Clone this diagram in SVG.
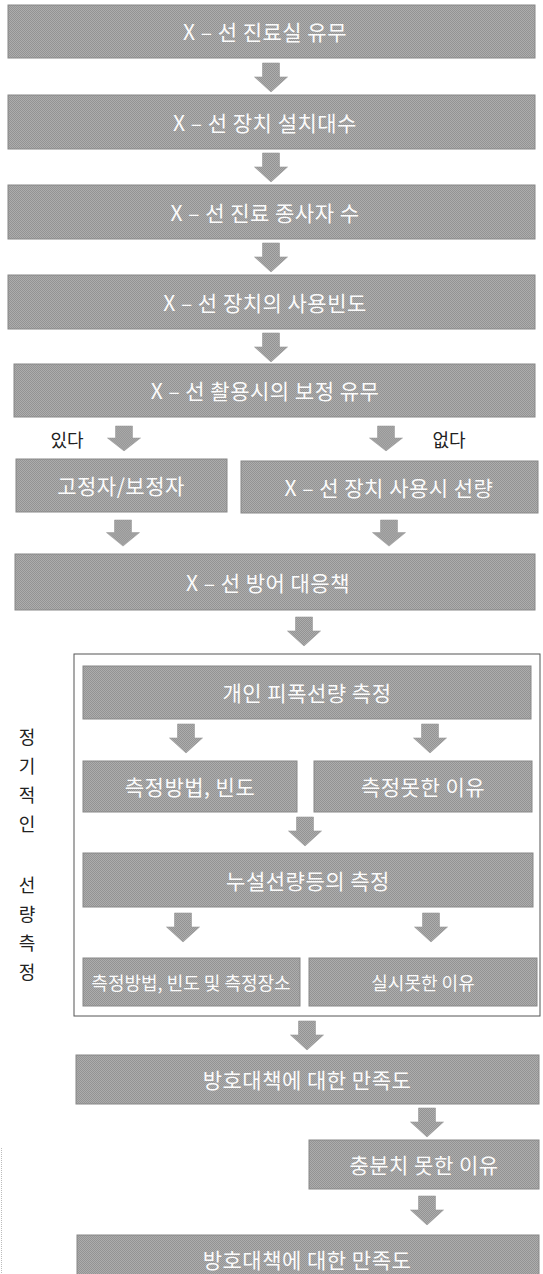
<svg xmlns="http://www.w3.org/2000/svg" xmlns:xlink="http://www.w3.org/1999/xlink" width="543" height="1274" viewBox="0 0 543 1274">
<style>
.box{fill:url(#ht);stroke:#888;stroke-width:1}
.t{font-family:"Noto Sans CJK KR","Noto Sans",sans-serif;font-size:21px;fill:#fbfbfb;text-anchor:middle;dominant-baseline:central;letter-spacing:0.5px}
.ts{font-size:18px;letter-spacing:0}
.lab{font-family:"Noto Sans CJK KR","Noto Sans",sans-serif;font-size:18px;fill:#222;text-anchor:middle;dominant-baseline:central}
.arr{fill:url(#ht);stroke:#999;stroke-width:0.6}
.frame{fill:none;stroke:#555;stroke-width:1}
</style>
<defs>
<pattern id="ht" width="2" height="2" patternUnits="userSpaceOnUse">
<rect width="2" height="2" fill="#adadad"/>
<rect width="1" height="1" fill="#939393"/>
<rect x="1" y="1" width="1" height="1" fill="#939393"/>
</pattern>
<path id="dn" d="M-8.5 0H8.5V14H16.5L0 29L-16.5 14H-8.5Z"/>
</defs>
<rect width="543" height="1274" fill="#fff"/>
<line x1="1.5" y1="1148" x2="1.5" y2="1274" stroke="#bbb" stroke-width="1" stroke-dasharray="1 1"/>
<g id="frame"><rect class="frame" x="74" y="654" width="466" height="362"/></g>
<g id="n1"><rect class="box" x="8" y="5" width="527" height="53"/><text class="t" x="265" y="31">X – 선 진료실 유무</text></g>
<g id="n2"><rect class="box" x="8" y="95" width="527" height="54"/><text class="t" x="265" y="122">X – 선 장치 설치대수</text></g>
<g id="n3"><rect class="box" x="8" y="185" width="527" height="54"/><text class="t" x="265" y="212">X – 선 진료 종사자 수</text></g>
<g id="n4"><rect class="box" x="8" y="275" width="527" height="54"/><text class="t" x="265" y="302">X – 선 장치의 사용빈도</text></g>
<g id="n5"><rect class="box" x="14" y="364" width="521" height="53"/><text class="t" x="265" y="390">X – 선 촬용시의 보정 유무</text></g>
<g id="n6"><rect class="box" x="16" y="459" width="211" height="53"/><text class="t" x="121" y="485">고정자/보정자</text></g>
<g id="n7"><rect class="box" x="241" y="461" width="297" height="52"/><text class="t" x="389" y="487">X – 선 장치 사용시 선량</text></g>
<g id="n8"><rect class="box" x="15" y="554" width="520" height="56"/><text class="t" x="268" y="582">X – 선 방어 대응책</text></g>
<g id="n9"><rect class="box" x="83" y="666" width="448" height="53"/><text class="t" x="307" y="692">개인 피폭선량 측정</text></g>
<g id="n10"><rect class="box" x="83" y="761" width="214" height="51"/><text class="t" x="190" y="786">측정방법, 빈도</text></g>
<g id="n11"><rect class="box" x="314" y="761" width="218" height="51"/><text class="t" x="423" y="786">측정못한 이유</text></g>
<g id="n12"><rect class="box" x="83" y="853" width="450" height="54"/><text class="t" x="308" y="880">누설선량등의 측정</text></g>
<g id="n13"><rect class="box" x="83" y="958" width="217" height="48"/><text class="t ts" x="191" y="982">측정방법, 빈도 및 측정장소</text></g>
<g id="n14"><rect class="box" x="309" y="958" width="228" height="48"/><text class="t ts" x="423" y="982">실시못한 이유</text></g>
<g id="n15"><rect class="box" x="76" y="1055" width="463" height="49"/><text class="t" x="307" y="1079">방호대책에 대한 만족도</text></g>
<g id="n16"><rect class="box" x="309" y="1140" width="230" height="49"/><text class="t" x="424" y="1164">충분치 못한 이유</text></g>
<g id="n17"><rect class="box" x="77" y="1235" width="462" height="45"/><text class="t" x="307" y="1259">방호대책에 대한 만족도</text></g>
<g id="labels">
<text class="lab" x="67" y="439">있다</text>
<text class="lab" x="449" y="439">없다</text>
<text class="lab" x="27" y="736">정</text>
<text class="lab" x="27" y="765">기</text>
<text class="lab" x="27" y="794">적</text>
<text class="lab" x="27" y="823">인</text>
<text class="lab" x="27" y="884">선</text>
<text class="lab" x="27" y="913">량</text>
<text class="lab" x="27" y="942">측</text>
<text class="lab" x="27" y="971">정</text>
</g>
<g id="connectors" class="arr">
<use xlink:href="#dn" transform="translate(271,63)"/>
<use xlink:href="#dn" transform="translate(271,153)"/>
<use xlink:href="#dn" transform="translate(271,243)"/>
<use xlink:href="#dn" transform="translate(271,333)"/>
<use xlink:href="#dn" transform="translate(124,426) scale(1,0.86)"/>
<use xlink:href="#dn" transform="translate(386,426) scale(1,0.86)"/>
<use xlink:href="#dn" transform="translate(123,520) scale(1,0.9)"/>
<use xlink:href="#dn" transform="translate(389,520) scale(1,0.9)"/>
<use xlink:href="#dn" transform="translate(304,617)"/>
<use xlink:href="#dn" transform="translate(186,724)"/>
<use xlink:href="#dn" transform="translate(430,724)"/>
<use xlink:href="#dn" transform="translate(305,817)"/>
<use xlink:href="#dn" transform="translate(183,913)"/>
<use xlink:href="#dn" transform="translate(431,913)"/>
<use xlink:href="#dn" transform="translate(307,1021)"/>
<use xlink:href="#dn" transform="translate(427,1108)"/>
<use xlink:href="#dn" transform="translate(427,1196)"/>
</g>
</svg>
